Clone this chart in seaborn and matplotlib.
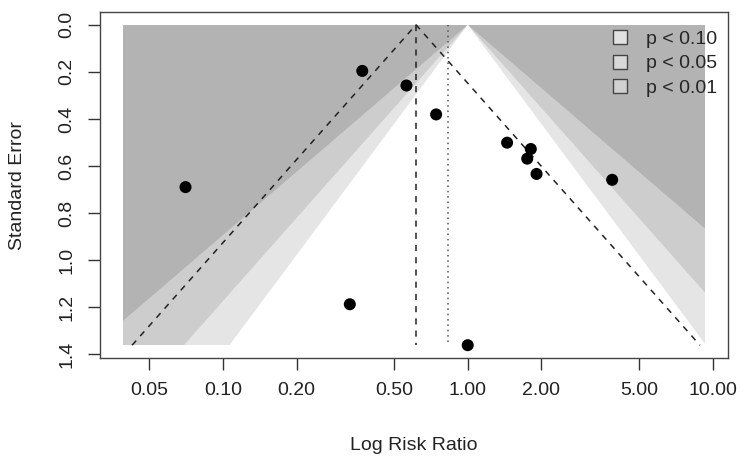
import numpy as np
import pandas as pd
import matplotlib
matplotlib.use("Agg")
import matplotlib.pyplot as plt
from matplotlib.patches import Polygon, Rectangle, Patch
import seaborn as sns

# ---- data ----
risk_ratio = [0.371, 0.562, 0.743, 1.448, 1.81, 1.75, 1.91, 3.89, 0.0704, 0.330, 1.00]
std_error = [0.196, 0.258, 0.381, 0.501, 0.528, 0.569, 0.634, 0.659, 0.690, 1.188, 1.362]
pooled_rr = 0.615          # dashed funnel centre
second_rr = 0.829          # dotted reference line
contour_z = [2.5758, 1.9600, 1.6449]   # p = 0.01, 0.05, 0.10
legend_labels = ["p < 0.10", "p < 0.05", "p < 0.01"]
x_ticks = [0.05, 0.10, 0.20, 0.50, 1.00, 2.00, 5.00, 10.00]
x_tick_labels = ["0.05", "0.10", "0.20", "0.50", "1.00", "2.00", "5.00", "10.00"]
y_ticks = [0.0, 0.2, 0.4, 0.6, 0.8, 1.0, 1.2, 1.4]
shade_range = [0.0392, 9.29]

df = pd.DataFrame({"rr": risk_ratio, "se": std_error})

sns.set_theme(style="white")
plt.rcParams["font.family"] = ["Liberation Sans", "DejaVu Sans"]

fig = plt.figure(figsize=(7.5, 4.61), dpi=100)
ax = fig.add_axes([100 / 750, 1 - 358 / 461, 628 / 750, 346 / 461])
ax.set_xscale("log")

se_max = max(std_error)
lx0, lx1 = np.log(shade_range[0]), np.log(shade_range[1])
ext = (lx1 - lx0) * 0.04
yext = se_max * 0.04
ax.set_xlim(np.exp(lx0 - ext), np.exp(lx1 + ext))
ax.set_ylim(se_max + yext, -yext)

dark, mid, light = "#b3b3b3", "#cdcdcd", "#e5e5e5"
rect = Rectangle((shade_range[0], 0), shade_range[1] - shade_range[0], se_max,
                 facecolor=dark, edgecolor="none", zorder=1)
ax.add_patch(rect)
for z, col in zip(contour_z, [mid, light, "white"]):
    poly = Polygon([(np.exp(-z * se_max), se_max), (1.0, 0.0), (np.exp(z * se_max), se_max)],
                   closed=True, facecolor=col, edgecolor="none", zorder=2)
    ax.add_patch(poly)
    poly.set_clip_path(rect)

# pseudo confidence funnel around pooled estimate
z95 = 1.9600
ax.plot([pooled_rr * np.exp(-z95 * se_max), pooled_rr, pooled_rr * np.exp(z95 * se_max)],
        [se_max, 0, se_max], color="#222222", lw=1.1, ls=(0, (4, 4)), zorder=3)
ax.plot([pooled_rr, pooled_rr], [0, se_max], color="#222222", lw=1.1, ls=(0, (4, 4)), zorder=3)
ax.plot([second_rr, second_rr], [0, se_max], color="#555555", lw=1.1, ls=(0, (1, 2.5)), zorder=3)

sns.scatterplot(data=df, x="rr", y="se", color="black", s=75, edgecolor="none",
                ax=ax, zorder=5, legend=False)

ax.set_xticks(x_ticks)
ax.set_xticklabels(x_tick_labels)
ax.xaxis.set_minor_locator(matplotlib.ticker.NullLocator())
ax.set_yticks(y_ticks)
ax.set_yticklabels([f"{v:.1f}" for v in y_ticks], rotation=90, va="center")
ax.tick_params(axis="both", which="major", length=8.6, width=1, color="#333333",
               labelsize=14, pad=9, labelcolor="#222222", direction="out",
               bottom=True, left=True)

for s in ax.spines.values():
    s.set_color("#444444")
    s.set_linewidth(1.0)

ax.set_xlabel("Log Risk Ratio", fontsize=14, color="#222222")
ax.set_ylabel("Standard Error", fontsize=14, color="#222222")
ax.xaxis.set_label_coords(0.5, -0.228)
ax.yaxis.set_label_coords(-0.118, 0.5)

handles = [Patch(facecolor=c, edgecolor="#444444", linewidth=1.0)
           for c in ["#e2e2e2", "#d8d8d8", "#d0d0d0"]]
ax.legend(handles, legend_labels, loc="upper right", bbox_to_anchor=(0.9825, 0.948),
          frameon=False, fontsize=14, handlelength=0.72, handleheight=0.72,
          handletextpad=0.95, labelspacing=0.36, borderpad=0, borderaxespad=0)

fig.savefig("out.png", dpi=100)
